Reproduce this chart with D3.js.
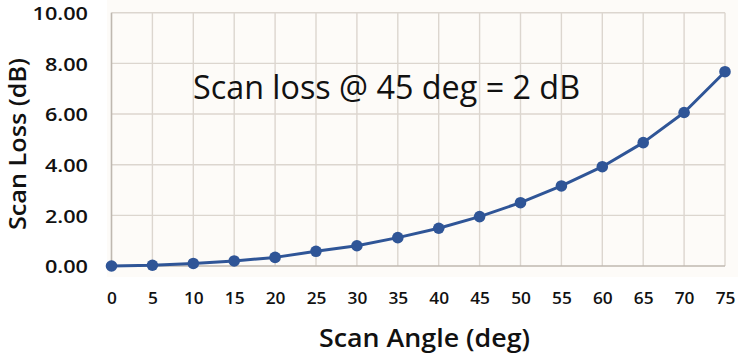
<!DOCTYPE html>
<html>
<head>
<meta charset="utf-8">
<script src="https://cdn.jsdelivr.net/npm/d3@7"></script>
<style>
  html, body { margin: 0; padding: 0; background: #ffffff; }
  svg { display: block; }
</style>
</head>
<body>
<svg id="chart" width="743" height="354"></svg>
<script>
const angles = [0, 5, 10, 15, 20, 25, 30, 35, 40, 45, 50, 55, 60, 65, 70, 75];
const scanLoss = [0.00, 0.03, 0.10, 0.20, 0.34, 0.58, 0.80, 1.12, 1.49, 1.95, 2.50, 3.16, 3.92, 4.87, 6.06, 7.67];
const yTicks = [0, 2, 4, 6, 8, 10];
const annotation = "Scan loss @ 45 deg = 2 dB";
const xTitle = "Scan Angle (deg)";
const yTitle = "Scan Loss (dB)";

const svg = d3.select("#chart");
const m = { left: 111.5, right: 725, top: 12.7, bottom: 266 };

const x = d3.scaleLinear().domain([0, 75]).range([m.left, m.right]);
const y = d3.scaleLinear().domain([0, 10]).range([m.bottom, m.top]);

// plot background
svg.append("rect")
  .attr("x", 107).attr("y", 0)
  .attr("width", 631).attr("height", 277)
  .attr("fill", "#fdfbf8");

// grid
const gridColor = "#dcd6cf";
svg.append("g").selectAll("line").data(angles.slice(1)).join("line")
  .attr("x1", d => x(d)).attr("x2", d => x(d))
  .attr("y1", y(10)).attr("y2", y(0))
  .attr("stroke", gridColor).attr("stroke-width", 1.4);
svg.append("g").selectAll("line").data(yTicks.slice(1)).join("line")
  .attr("x1", x(0)).attr("x2", x(75))
  .attr("y1", d => y(d)).attr("y2", d => y(d))
  .attr("stroke", gridColor).attr("stroke-width", 1.4);

// axes lines
svg.append("line")
  .attr("x1", x(0)).attr("x2", x(0)).attr("y1", y(10)).attr("y2", y(0))
  .attr("stroke", "#bfb8b0").attr("stroke-width", 1.6);
svg.append("line")
  .attr("x1", x(0)).attr("x2", x(75)).attr("y1", y(0)).attr("y2", y(0))
  .attr("stroke", "#bfb8b0").attr("stroke-width", 1.6);

const font = "'Open Sans', 'Noto Sans', sans-serif";

function stretch(sel, k) {
  sel.each(function () {
    const w = this.getComputedTextLength();
    d3.select(this).attr("textLength", w * k).attr("lengthAdjust", "spacingAndGlyphs");
  });
}

// y tick labels
const yAxis = d3.axisLeft(y).tickValues(yTicks).tickFormat(d3.format(".2f")).tickSize(0).tickPadding(0);
const gy = svg.append("g").attr("transform", `translate(88,0)`).call(yAxis);
gy.select(".domain").remove();
gy.selectAll("text")
  .attr("font-family", font).attr("font-size", 18.5).attr("font-weight", 600)
  .attr("fill", "#111").attr("dy", "0.36em");
stretch(gy.selectAll("text"), 1.17);

// x tick labels
const xAxis = d3.axisBottom(x).tickValues(angles).tickFormat(d3.format("d")).tickSize(0).tickPadding(0);
const gx = svg.append("g").attr("transform", `translate(0,304)`).call(xAxis);
gx.select(".domain").remove();
gx.selectAll("text")
  .attr("font-family", font).attr("font-size", 16).attr("font-weight", 600)
  .attr("fill", "#111").attr("y", 0).attr("dy", 0);
stretch(gx.selectAll("text"), 1.08);

// line + points
const color = "#2f5597";
svg.append("path")
  .datum(angles.map((a, i) => [a, scanLoss[i]]))
  .attr("fill", "none").attr("stroke", color).attr("stroke-width", 3)
  .attr("stroke-linejoin", "round")
  .attr("d", d3.line().x(d => x(d[0])).y(d => y(d[1])));
svg.append("g").selectAll("circle").data(angles.map((a, i) => [a, scanLoss[i]])).join("circle")
  .attr("cx", d => x(d[0])).attr("cy", d => y(d[1])).attr("r", 5.8)
  .attr("fill", color);

// annotation
svg.append("text")
  .attr("x", 193).attr("y", 99)
  .attr("font-family", font).attr("font-size", 32)
  .attr("fill", "#111")
  .attr("textLength", 387).attr("lengthAdjust", "spacingAndGlyphs")
  .text(annotation);

// axis titles
svg.append("text")
  .attr("x", 319).attr("y", 346.5)
  .attr("font-family", font).attr("font-size", 25).attr("font-weight", 600)
  .attr("fill", "#111")
  .attr("textLength", 211).attr("lengthAdjust", "spacingAndGlyphs")
  .text(xTitle);

svg.append("text")
  .attr("transform", `translate(25.5,230) rotate(-90)`)
  .attr("font-family", font).attr("font-size", 24).attr("font-weight", 600)
  .attr("fill", "#111")
  .attr("textLength", 172).attr("lengthAdjust", "spacingAndGlyphs")
  .text(yTitle);
</script>
</body>
</html>
